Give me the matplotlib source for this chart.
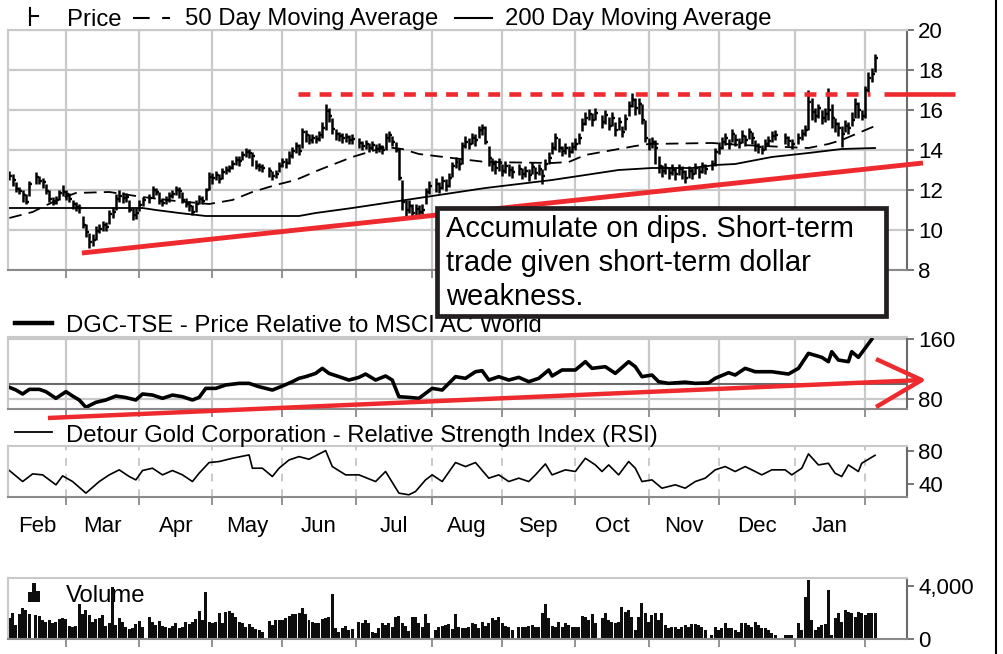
import numpy as np
import pandas as pd
import matplotlib
matplotlib.use("Agg")
import matplotlib.pyplot as plt
from matplotlib.lines import Line2D
from matplotlib.patches import Rectangle
from matplotlib.transforms import blended_transform_factory

plt.rcParams["font.family"] = ["Liberation Sans", "DejaVu Sans"]
nan = np.nan

# weekdays Feb 5 2015 .. Feb 4 2016, nan = no trading
dates = pd.bdate_range("2015-02-05", "2016-02-04")

close = [
    # Feb
    12.7, 12.5, 12.05, 11.95, 11.75, 11.4, 12.3, nan, 12.65, 12.45, 12.4, 11.95, 11.55, 11.35, 11.5, 11.85, 11.9,
    # Mar
    11.8, 11.55, 11.3, 11.15, 11.1, 10.25, 9.9, 9.4, 9.5, 9.95, 10.05, 10.25, 10.15, 10.8, 10.9, 11.55, 11.7, 11.6, 11.65, 11.0, 10.75, 10.85,
    # Apr
    11.25, 11.5, nan, 11.6, 12.0, 11.9, 11.45, 11.35, 11.5, 11.7, 11.8, 12.0, 11.95, 11.5, 11.3, 11.2, 10.9, 11.3, 11.55, 11.45, 12.0, 12.65,
    # May
    12.6, 12.75, 12.55, 12.9, 13.0, 13.1, 13.3, 13.5, 13.45, 13.75, 13.9, 13.85, 13.7, 13.2, 13.15, 13.1, nan, 12.95, 12.7, 12.8, 13.2,
    # Jun
    13.4, 13.35, 13.7, 13.95, 14.2, 13.95, 14.9, 14.75, 14.5, 14.6, 14.55, 14.75, 15.1, 15.95, 15.7, 15.05, 14.8, 14.7, 14.6, 14.65, 14.5, 14.55,
    # Jul
    nan, 14.35, 14.2, 14.3, 14.1, 14.25, 14.05, 14.15, 14.0, 14.6, 14.75, 14.4, 14.0, 12.6, 11.4, 11.0, 11.2, 10.85, 11.05, 10.9, 11.0, 11.9, 12.2,
    # Aug
    nan, 12.3, 12.1, 12.45, 12.2, 12.6, 13.2, 13.4, 13.3, 14.2, 14.4, 14.3, 14.6, 14.5, 15.0, 15.1, 14.4, 13.6, 13.3, 13.1, 13.35,
    # Sep
    12.95, 13.2, 13.0, 12.9, nan, 13.05, 12.8, 12.95, 12.75, 13.15, 12.85, 13.05, 12.7, 13.3, 13.6, 14.1, 14.6, 14.1, 13.95, 14.1, 13.9, 14.15,
    # Oct
    14.3, 14.6, 15.3, 15.6, 15.8, 15.5, 15.85, nan, 15.4, 15.75, 15.2, 15.6, 15.0, 15.4, 14.9, 15.55, 16.2, 16.5, 16.1, 16.3, 15.5, 14.6,
    # Nov
    14.3, 14.4, 14.1, 13.2, 12.95, 13.1, 12.85, 13.0, 12.8, 13.05, 12.9, 12.6, 12.95, 12.8, 13.1, 12.9, 13.2, 13.05, nan, 13.3, 13.9,
    # Dec
    14.1, 14.4, 14.6, 14.3, 14.8, 14.5, 14.35, 14.7, 14.5, 14.9, 14.6, 14.2, 14.15, 14.0, 14.3, 14.45, 14.7, 14.75, nan, nan, 14.6, 14.45, 14.3,
    # Jan
    nan, 14.6, 14.8, 15.0, 16.4, 15.9, 15.7, 16.1, 15.6, 15.8, 16.0, 15.6, 15.3, 15.1, 14.8, 15.2, 15.1, 15.5, 16.3, 16.0, 15.7,
    # Feb
    17.0, 17.6, 17.8, 18.6,
]

high = [
    12.95, 12.8, 12.4, 12.15, 12.0, 11.8, 12.45, nan, 12.9, 12.7, 12.6, 12.3, 12.0, 11.65, 11.7, 12.0, 12.25,
    12.0, 11.85, 11.5, 11.4, 11.3, 10.7, 10.3, 9.85, 9.8, 10.2, 10.3, 10.45, 10.4, 11.0, 11.15, 11.8, 12.0, 11.9, 11.85, 11.5, 11.1, 11.1,
    11.5, 11.65, nan, 11.8, 12.2, 12.1, 11.9, 11.6, 11.7, 11.9, 12.0, 12.2, 12.15, 11.9, 11.6, 11.45, 11.25, 11.5, 11.75, 11.7, 12.1, 12.9,
    12.85, 12.95, 12.8, 13.1, 13.2, 13.25, 13.5, 13.7, 13.7, 13.95, 14.1, 14.05, 13.9, 13.5, 13.35, 13.3, nan, 13.15, 12.95, 13.0, 13.4,
    13.6, 13.6, 13.95, 14.15, 14.4, 14.3, 15.1, 15.0, 14.8, 14.8, 14.75, 14.95, 15.4, 16.3, 16.1, 15.6, 15.05, 14.9, 14.85, 14.85, 14.75, 14.8,
    nan, 14.6, 14.45, 14.5, 14.35, 14.45, 14.3, 14.35, 14.25, 14.85, 14.95, 14.7, 14.4, 14.1, 12.5, 11.5, 11.5, 11.3, 11.3, 11.25, 11.3, 12.1, 12.45,
    nan, 12.6, 12.4, 12.7, 12.55, 12.85, 13.4, 13.65, 13.55, 14.4, 14.7, 14.6, 14.85, 14.8, 15.2, 15.3, 15.2, 14.2, 13.6, 13.5, 13.6,
    13.3, 13.45, 13.3, 13.2, nan, 13.3, 13.1, 13.2, 13.05, 13.4, 13.15, 13.3, 13.05, 13.55, 13.9, 14.4, 14.85, 14.6, 14.2, 14.35, 14.2, 14.4,
    14.6, 14.85, 15.6, 15.9, 16.05, 15.85, 16.1, nan, 15.75, 16.0, 15.65, 15.9, 15.4, 15.65, 15.2, 15.8, 16.45, 16.85, 16.6, 16.6, 16.3, 15.5,
    14.6, 14.65, 14.5, 13.7, 13.25, 13.35, 13.15, 13.3, 13.1, 13.3, 13.2, 13.0, 13.2, 13.1, 13.35, 13.15, 13.4, 13.3, nan, 13.5, 14.1,
    14.4, 14.65, 14.85, 14.55, 15.05, 14.8, 14.6, 15.0, 14.75, 15.1, 14.9, 14.5, 14.35, 14.25, 14.55, 14.7, 14.95, 15.0, nan, nan, 14.85, 14.7, 14.55,
    nan, 14.85, 15.05, 15.25, 17.0, 16.6, 16.1, 16.3, 16.0, 16.1, 17.1, 16.3, 15.6, 15.4, 15.2, 15.5, 15.4, 15.9, 16.6, 16.4, 16.0,
    17.2, 17.9, 18.1, 18.8,
]

low = [
    12.5, 12.2, 11.9, 11.8, 11.4, 11.3, 11.7, nan, 12.3, 12.3, 12.1, 11.8, 11.4, 11.25, 11.3, 11.5, 11.7,
    11.5, 11.4, 11.05, 10.95, 10.85, 10.1, 9.65, 9.1, 9.2, 9.5, 9.85, 9.95, 9.95, 10.3, 10.6, 11.0, 11.4, 11.35, 11.4, 10.9, 10.5, 10.55,
    10.95, 11.2, nan, 11.35, 11.6, 11.75, 11.3, 11.2, 11.3, 11.4, 11.6, 11.75, 11.6, 11.35, 11.15, 10.95, 10.75, 10.9, 11.3, 11.3, 11.5, 12.0,
    12.3, 12.5, 12.35, 12.55, 12.8, 12.9, 13.05, 13.25, 13.2, 13.5, 13.65, 13.6, 13.2, 13.05, 12.95, 12.9, nan, 12.65, 12.5, 12.6, 12.9,
    13.15, 13.1, 13.3, 13.6, 13.85, 13.75, 14.1, 14.4, 14.3, 14.35, 14.35, 14.45, 14.6, 15.0, 15.4, 14.8, 14.5, 14.45, 14.35, 14.4, 14.3, 14.3,
    nan, 14.1, 14.0, 14.05, 13.9, 14.0, 13.85, 13.9, 13.8, 14.0, 14.4, 14.2, 13.9, 12.5, 11.0, 10.7, 10.85, 10.65, 10.7, 10.65, 10.8, 11.3, 11.8,
    nan, 11.9, 11.85, 12.05, 11.95, 12.15, 12.65, 13.1, 13.0, 13.3, 14.1, 14.05, 14.3, 14.2, 14.6, 14.75, 14.3, 13.2, 12.95, 12.8, 12.95,
    12.7, 12.85, 12.7, 12.6, nan, 12.75, 12.55, 12.65, 12.45, 12.8, 12.55, 12.75, 12.3, 13.0, 13.3, 13.8, 14.0, 13.9, 13.7, 13.8, 13.65, 13.85,
    14.0, 14.3, 14.95, 15.25, 15.5, 15.2, 15.5, nan, 15.1, 15.3, 15.0, 15.2, 14.7, 15.0, 14.65, 15.0, 15.7, 16.15, 15.75, 15.8, 15.3, 14.4,
    14.0, 14.1, 13.3, 12.85, 12.65, 12.8, 12.55, 12.75, 12.5, 12.75, 12.55, 12.35, 12.6, 12.55, 12.8, 12.6, 12.85, 12.8, nan, 13.0, 13.2,
    13.8, 14.05, 14.25, 14.05, 14.4, 14.2, 14.1, 14.35, 14.2, 14.55, 14.3, 13.95, 13.85, 13.8, 14.0, 14.2, 14.4, 14.5, nan, nan, 14.3, 14.2, 14.05,
    nan, 14.3, 14.5, 14.7, 15.0, 15.5, 15.4, 15.6, 15.3, 15.4, 15.5, 15.1, 14.9, 14.7, 14.15, 14.9, 14.8, 15.2, 15.6, 15.6, 15.5,
    15.6, 16.9, 17.4, 17.9,
]

volume = [
    1560, 1990, 1060, 1890, 2310, 2190, 1890, nan, 1810, 1740, 1430, 1310, 1430, 1230, 1310, 1480, 1560,
    1510, 980, 880, 980, 2620, 1890, 2190, 1810, 1310, 1480, 1560, 1810, 980, 1180, 3950, 1060, 1560, 1250, 880, 730, 810, 1160,
    1380, 930, nan, 1640, 1310, 1060, 1380, 980, 880, 800, 980, 1180, 800, 880, 1310, 1130, 1310, 1480, 2110, 1430, 3520, 1310,
    1180, 1310, 1990, 1180, 2060, 2140, 1940, 1640, 1310, 1230, 930, 1110, 880, 730, 680, 550, nan, 1380, 1060, 1430, 1430,
    1430, 1560, 1740, 1890, 1890, 1940, 2310, 1890, 1430, 1310, 1180, 1230, 1480, 1560, 1690, 3370, 800, 550, 800, 980, 680, 730,
    nan, 1310, 1180, 1430, 1230, 550, 480, 800, 1230, 1060, 1180, 880, 1690, 1740, 1230, 980, 630, 1690, 1640, 1230, 880, 1890, 1230,
    nan, 680, 880, 980, 1060, 1130, 730, 1890, 880, 800, 800, 930, 1180, 1130, 800, 1310, 980, 1230, 1560, 1430, 1640,
    1180, 980, 880, 680, nan, 880, 880, 930, 980, 1060, 930, 880, 1940, 2620, 1560, 980, 880, 1310, 880, 1180, 1060, 930,
    880, 880, 1740, 1640, 1430, 1890, 1180, nan, 1560, 1940, 1440, 1310, 1230, 1310, 2440, 2070, 2190, 1690, 680, 1690, 2750, 1940,
    1310, 1810, 1990, 1440, 1990, 1060, 810, 880, 930, 730, 930, 1060, 930, 1130, 1130, 1060, 930, 680, nan, 300, 930,
    680, 810, 1180, 810, 810, 680, 550, 1180, 1180, 1060, 930, 1310, 1060, 810, 810, 680, 430, 300, nan, nan, 300, 300, 300,
    nan, 1230, 680, 3200, 4460, 1440, 680, 930, 1060, 1130, 3700, 300, 1560, 1990, 1310, 2190, 2070, 1940, 1690, 2070, 1990,
    1810, 1990, 1990, 1990,
]

# moving averages, relative price and RSI read as (day index, value) vertices
ma50_day = [0, 7, 10, 15, 20, 30, 40, 50, 60, 67, 73, 80, 86, 93, 103, 113, 118, 123, 133, 143, 163, 168, 173, 183,
            188, 192, 211, 220, 233, 240, 246, 250, 255, 260]
ma50 = [10.6, 10.9, 11.15, 11.55, 11.85, 11.9, 11.65, 11.45, 11.3, 11.5, 11.9, 12.25, 12.5, 13.0, 13.65, 14.15, 14.05,
        13.8, 13.6, 13.4, 13.35, 13.4, 13.75, 14.05, 14.2, 14.3, 14.35, 14.25, 14.15, 14.1, 14.3, 14.5, 14.85, 15.2]

ma200_day = [0, 40, 44, 51, 59, 87, 92, 103, 113, 123, 133, 143, 153, 163, 173, 183, 193, 205, 212, 218, 229, 240, 250, 260]
ma200 = [11.1, 11.1, 11.0, 10.85, 10.7, 10.7, 10.85, 11.1, 11.35, 11.6, 11.85, 12.1, 12.3, 12.5, 12.75, 13.0, 13.1,
         13.1, 13.25, 13.3, 13.65, 13.85, 14.05, 14.1]

rel_day = [0, 2, 4, 6, 9, 11, 14, 17, 19, 21, 23, 26, 29, 32, 35, 38, 40, 43, 46, 49, 52, 55, 57, 59, 62, 65, 69, 72,
           75, 79, 82, 85, 87, 89, 92, 94, 96, 99, 102, 105, 107, 110, 113, 115, 117, 120, 123, 127, 130, 134, 137, 140,
           142, 144, 147, 150, 153, 156, 159, 162, 163, 166, 170, 173, 175, 179, 182, 186, 188, 190, 193, 195, 198,
           203, 206, 210, 212, 216, 218, 221, 224, 229, 234, 237, 240, 244, 246, 247, 249, 252, 253, 255, 257, 259]
rel = [95.6, 92, 86.7, 92.9, 92.9, 89.8, 80.9, 89.8, 84, 78.7, 68.9, 75.6, 78.7, 84, 82, 78.7, 86.7, 85.3, 80.9, 85.3,
       83.1, 78.7, 82.2, 94.2, 94.2, 98.7, 100.9, 100.9, 96.4, 92, 97.3, 103.1, 107.6, 109.8, 114.2, 120.9, 114.2, 109.8,
       105.3, 108.9, 113.3, 105.3, 110.7, 105.3, 83.1, 82.2, 80.9, 94.2, 92, 109.8, 107.6, 116.4, 117.8, 105.3, 109.8,
       105.3, 108.9, 103.1, 107.6, 118.7, 110.7, 118.7, 118.7, 129.8, 120.9, 123.1, 114.2, 129.8, 123.1, 109.8, 112,
       103.1, 100.9, 102.5, 100.9, 101.5, 107.6, 115.1, 112, 120.9, 116.4, 116.4, 113.3, 120.9, 140.9, 135.6, 129.8,
       143.1, 132, 129.8, 143.1, 135.6, 147.6, 159.6]

rsi_day = [0, 4, 7, 10, 14, 16, 19, 23, 27, 30, 33, 36, 38, 40, 43, 46, 49, 52, 55, 57, 60, 63, 67, 72, 73, 76, 79, 81,
           84, 87, 90, 95, 97, 101, 105, 110, 113, 117, 120, 122, 125, 127, 130, 134, 137, 140, 144, 147, 150, 153, 156,
           158, 161, 163, 167, 170, 173, 176, 178, 180, 183, 186, 188, 190, 193, 196, 200, 203, 206, 209, 212, 215, 218,
           221, 224, 226, 229, 233, 235, 238, 240, 243, 246, 248, 250, 252, 255, 256, 260]
rsi = [56.2, 42.8, 52.1, 50.9, 38.8, 49.7, 42.8, 28.7, 42.8, 50.9, 57, 48.9, 44.8, 56.2, 59, 50.9, 56.2, 50.9, 42.8,
       52.9, 65.9, 67.1, 71.1, 75.2, 59, 59, 48.9, 59, 69, 73.1, 69.9, 80.4, 61, 50.9, 50.9, 42.8, 55, 28.7, 26.7, 30.7,
       44.8, 50.9, 42.8, 65.9, 61, 65.9, 46.9, 50.9, 42.8, 46.9, 42.8, 50.9, 64.2, 50.9, 57, 55, 71.1, 63, 55, 63, 50.9,
       67.1, 59, 42.8, 44.8, 34.7, 38.8, 34.7, 42.8, 46.9, 57, 61, 55, 61, 55, 50.9, 57, 57, 50.9, 59, 76.4, 63, 65,
       52.9, 48.9, 63, 55, 65, 74.7]

month_names = ["Feb", "Mar", "Apr", "May", "Jun", "Jul", "Aug", "Sep", "Oct", "Nov", "Dec", "Jan"]

# annotation levels (price / relative units)
resistance = 16.8
trend_price = ([21.8, 274.4], [8.85, 13.35])
trend_rel = ([11.6, 274.0], [54.7, 105.3])
arrow_wings = ([260.3, 274.0, 260.3], [133.3, 105.3, 69.3])

# ---------------------------------------------------------------
close = np.array(close, float)
high = np.array(high, float)
low = np.array(low, float)
volume = np.array(volume, float)
idx = np.arange(len(dates))
ok = ~np.isnan(close)

months = dates.to_period("M")
month_start = [i for i in range(1, len(dates)) if months[i] != months[i - 1]]
bounds = [-0.4] + month_start
label_pos = [(bounds[k] + bounds[k + 1]) / 2 for k in range(len(month_names))]

W, H = 1004, 654
def fx(x):
    return x / W
def fy(y):
    return 1 - y / H

GRID = "#c9c9c9"
SPINE = "#8a8a8a"
DARK = "#6b6b6b"
RED = "#ee2a2e"

fig = plt.figure(figsize=(10.04, 6.54), dpi=100)

def panel(top, bottom):
    ax = fig.add_axes([fx(8), fy(bottom), fx(907 - 8), (bottom - top) / H])
    ax.set_xlim(-0.4, 269.6)
    for s in ("left", "top"):
        ax.spines[s].set_color(GRID)
        ax.spines[s].set_linewidth(1.5)
    ax.spines["bottom"].set_color(SPINE)
    ax.spines["bottom"].set_linewidth(1.5)
    ax.spines["right"].set_color(DARK)
    ax.spines["right"].set_linewidth(1.5)
    ax.yaxis.tick_right()
    ax.tick_params(axis="y", direction="out", length=5, width=1.3, color=DARK, labelsize=16, pad=3)
    ax.tick_params(axis="x", direction="out", length=6, width=1.3, color=SPINE, labelbottom=False)
    ax.set_xticks(month_start)
    ax.set_axisbelow(True)
    return ax

# price panel
ax1 = panel(30, 270)
ax1.set_ylim(8, 20)
ax1.set_yticks(np.arange(8, 21, 2))
ax1.grid(True, color=GRID, lw=1.6)
ax1.vlines(idx[ok], low[ok], high[ok], color="black", lw=1.8)
ax1.hlines(close[ok], idx[ok], idx[ok] + 0.9, color="black", lw=1.7)
ax1.plot(ma50_day, ma50, color="black", lw=1.3, ls=(0, (7, 4)))
ax1.plot(ma200_day, ma200, color="black", lw=1.3)
ax1.hlines(resistance, 86.7, 258.5, color=RED, lw=3.3, linestyles=[(0, (2.6, 2.0))], zorder=5)
ax1.hlines(resistance, 262.7, 284.0, color=RED, lw=3.3, clip_on=False, zorder=5)
ax1.plot(*trend_price, color=RED, lw=3.5, clip_on=False, solid_capstyle="butt", zorder=5)

# relative price panel
ax2 = panel(337, 409)
ax2.set_ylim(66.7, 162.7)
ax2.set_yticks([80, 160])
ax2.grid(True, color=GRID, lw=1.6)
ax2.axhline(100, color=DARK, lw=1.5, zorder=1)
ax2.plot(rel_day, rel, color="black", lw=2.6, solid_joinstyle="round")
ax2.plot(*trend_rel, color=RED, lw=3.2, clip_on=False, solid_capstyle="butt", zorder=5)
ax2.plot(*arrow_wings, color=RED, lw=3.2, clip_on=False, solid_capstyle="butt", zorder=5)

# RSI panel
ax3 = panel(446, 497)
ax3.set_ylim(24, 86)
ax3.set_yticks([40, 80])
ax3.grid(True, axis="x", color=GRID, lw=1.4, ls=(0, (4, 4)))
ax3.plot(rsi_day, rsi, color="black", lw=1.2)

# volume panel
ax4 = panel(578, 639)
ax4.set_ylim(0, 4600)
ax4.set_yticks([0, 4000])
ax4.set_yticklabels(["0", "4,000"])
vok = ~np.isnan(volume)
ax4.bar(idx[vok], volume[vok], width=0.9, color="#0d0d0d", zorder=2)

# month labels
tr = blended_transform_factory(ax3.transData, fig.transFigure)
for name, p in zip(month_names, label_pos):
    fig.text(p, fy(532), name, transform=tr, ha="center", va="baseline", fontsize=16)

# legends
LS = 17.2
fig.add_artist(Line2D([fx(30), fx(30)], [fy(8), fy(25)], color="black", lw=1.5))
fig.add_artist(Line2D([fx(30), fx(38)], [fy(16), fy(16)], color="black", lw=1.5))
fig.text(fx(67), fy(25.5), "Price", fontsize=LS, va="baseline")
fig.add_artist(Line2D([fx(133), fx(170)], [fy(17.5), fy(17.5)], color="black", lw=1.5, ls=(0, (8, 6))))
fig.text(fx(185), fy(25.5), "50 Day Moving Average", fontsize=LS, va="baseline")
fig.add_artist(Line2D([fx(455), fx(492)], [fy(17.5), fy(17.5)], color="black", lw=1.5))
fig.text(fx(505), fy(25.5), "200 Day Moving Average", fontsize=LS, va="baseline")

fig.add_artist(Line2D([fx(15), fx(52)], [fy(323), fy(323)], color="black", lw=3.2))
fig.text(fx(66), fy(332), "DGC-TSE - Price Relative to MSCI AC World", fontsize=LS, va="baseline")
fig.add_artist(Line2D([fx(15), fx(52)], [fy(432), fy(432)], color="black", lw=1.3))
fig.text(fx(66), fy(442), "Detour Gold Corporation - Relative Strength Index (RSI)", fontsize=LS, va="baseline")

# small volume glyph
for bx, bh in [(28, 10), (32, 19), (36, 11)]:
    fig.add_artist(Rectangle((fx(bx), fy(602)), 4.2 / W, bh / H, transform=fig.transFigure,
                             color="#0d0d0d", lw=0))
ax4.text((66 - 8) / (907 - 8), 1 - (602 - 578) / (639 - 578), "Volume", transform=ax4.transAxes,
         fontsize=LS, va="baseline", zorder=1)

# comment box
fig.add_artist(Rectangle((fx(437), fy(316)), (886 - 437) / W, (316 - 208) / H, transform=fig.transFigure,
                         facecolor="white", edgecolor="#231f20", lw=3.4, zorder=10))
for k, line in enumerate(["Accumulate on dips. Short-term", "trade given short-term dollar", "weakness."]):
    fig.text(fx(446), fy(237 + 34 * k), line, fontsize=21, va="baseline", zorder=11)

# right frame line
fig.add_artist(Line2D([fx(996), fx(996)], [0, 1], color="black", lw=1.5))

fig.savefig("out.png", dpi=100)
